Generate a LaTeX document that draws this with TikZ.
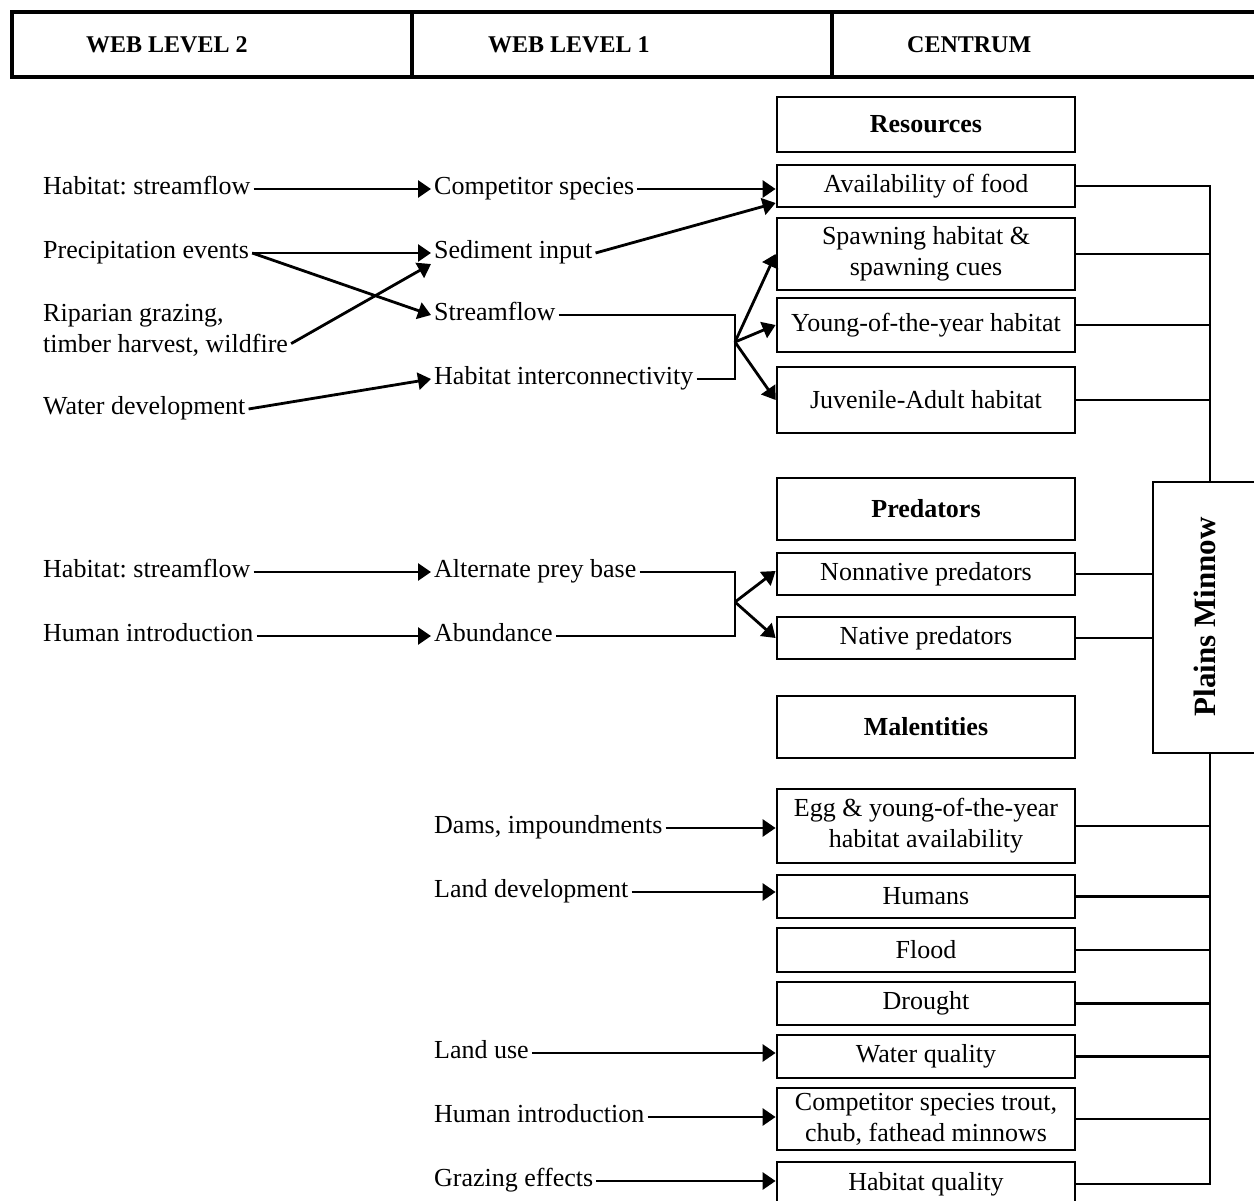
\documentclass[tikz,border=0pt]{standalone}
\usepackage{fontspec}
\setmainfont{Liberation Serif}
\usetikzlibrary{arrows.meta}
\frenchspacing
\newcommand\dgbody{\fontsize{26}{31}\selectfont}
\newcommand\dghead{\fontsize{24}{28}\selectfont\bfseries}
\newcommand\dgpm{\fontsize{31}{36}\selectfont\bfseries}
\begin{document}
\begin{tikzpicture}[x=1pt,y=-1pt,
  ln/.style={line width=2.8pt},
  arr/.style={line width=2.8pt,-{Triangle[length=13pt,width=17pt]}},
  cbox/.style={draw,line width=2.8pt,minimum width=298pt,inner sep=0pt,align=center,font=\dgbody},
  bbox/.style={cbox,font=\dgbody\bfseries},
  hcell/.style={draw,line width=3.4pt,inner sep=0pt,minimum height=65pt},
  htxt/.style={anchor=base west,inner sep=0pt,font=\dghead},
  txt/.style={anchor=west,inner xsep=3pt,inner ysep=0pt,text height=11pt,text depth=0pt,font=\dgbody},
]
\useasboundingbox (0,0) rectangle (1254,1201);
\clip (0,0) rectangle (1254,1201);

% header
\node[hcell,minimum width=400pt] (hc1) at (212,44.5) {};
\node[hcell,minimum width=420pt] (hc2) at (622,44.5) {};
\node[hcell,minimum width=440pt] (hc3) at (1052,44.5) {};
\node[htxt] (ht1) at (86,53) {WEB LEVEL 2};
\node[htxt] (ht2) at (488,53) {WEB LEVEL 1};
\node[htxt] (ht3) at (907,53) {CENTRUM};

% centrum boxes
\node[bbox,minimum height=55pt] (res) at (926,124.5) {Resources};
\node[cbox,minimum height=42pt] (food) at (926,186) {Availability of food};
\node[cbox,minimum height=72pt] (spawn) at (926,254) {Spawning habitat \&\\spawning cues};
\node[cbox,minimum height=54pt] (yoy) at (926,325) {Young-of-the-year habitat};
\node[cbox,minimum height=66pt] (juv) at (926,400) {Juvenile-Adult habitat};
\node[bbox,minimum height=62pt] (pred) at (926,509) {Predators};
\node[cbox,minimum height=42pt] (nonn) at (926,574) {Nonnative predators};
\node[cbox,minimum height=42pt] (nat) at (926,638) {Native predators};
\node[bbox,minimum height=62pt] (mal) at (926,727) {Malentities};
\node[cbox,minimum height=74pt] (egg) at (926,826) {Egg \& young-of-the-year\\habitat availability};
\node[cbox,minimum height=43pt] (hum) at (926,896.5) {Humans};
\node[cbox,minimum height=44pt] (flood) at (926,950) {Flood};
\node[cbox,minimum height=43pt] (drought) at (926,1003.5) {Drought};
\node[cbox,minimum height=43pt] (wq) at (926,1056.5) {Water quality};
\node[cbox,minimum height=62pt] (comp) at (926,1119) {Competitor species trout,\\chub, fathead minnows};
\node[cbox,minimum height=44pt] (hq) at (926,1184) {Habitat quality};

% Plains Minnow
\node[draw,line width=2.8pt,inner sep=0pt,minimum width=114pt,minimum height=271pt] (pm) at (1210,617.5) {};
\node[rotate=90,inner sep=0pt,font=\dgpm] (pmt) at (1205,617) {Plains Minnow};

% web level 2 (left)
\node[txt] (l1) at (40,189) {Habitat: streamflow};
\node[txt] (l2) at (40,253) {Precipitation events};
\node[anchor=north west,inner xsep=3pt,inner ysep=0pt,align=left,font=\dgbody] (rip) at (40,304) {Riparian grazing,\\timber harvest, wildfire};
\node[txt] (l4) at (40,409) {Water development};
\node[txt] (l5) at (40,572) {Habitat: streamflow};
\node[txt] (l6) at (40,636) {Human introduction};

% web level 1
\node[txt] (m1) at (431,189) {Competitor species};
\node[txt] (m2) at (431,253) {Sediment input};
\node[txt] (m3) at (431,315) {Streamflow};
\node[txt] (m4) at (431,379) {Habitat interconnectivity};
\node[txt] (m5) at (431,572) {Alternate prey base};
\node[txt] (m6) at (431,636) {Abundance};

% malentity drivers
\node[txt] (d1) at (431,828) {Dams, impoundments};
\node[txt] (d2) at (431,892) {Land development};
\node[txt] (d3) at (431,1053) {Land use};
\node[txt] (d4) at (431,1117) {Human introduction};
\node[txt] (d5) at (431,1181) {Grazing effects};

% junctions
\coordinate (b1) at (735,342);
\coordinate (b2) at (735,602);

% level 2 -> level 1
\draw[arr] (l1.east) -- (m1.west);
\draw[arr] (l2.east) -- (m2.west);
\draw[arr] (l2.east) -- (m3.west);
\draw[arr] ([yshift=13pt]rip.south east) -- ([yshift=-11pt]m2.west);
\draw[arr] (l4.east) -- (m4.west);
\draw[arr] (l5.east) -- (m5.west);
\draw[arr] (l6.east) -- (m6.west);

% level 1 -> centrum
\draw[arr] (m1.east) -- (m1.east -| food.west);
\draw[arr] (m2.east) -- ([yshift=-17pt]food.west);
\draw[ln] (m3.east) -| (b1);
\draw[ln] (m4.east) -| (b1);
\draw[arr] (b1) -- (spawn.west);
\draw[arr] (b1) -- (yoy.west);
\draw[arr] (b1) -- (juv.west);
\draw[ln] (m5.east) -| (b2);
\draw[ln] (m6.east) -| (b2);
\draw[arr] (b2) -- ([yshift=3pt]nonn.west);
\draw[arr] (b2) -- (nat.west);

\draw[arr] (d1.east) -- (d1.east -| egg.west);
\draw[arr] (d2.east) -- (d2.east -| hum.west);
\draw[arr] (d3.east) -- (d3.east -| wq.west);
\draw[arr] (d4.east) -- (d4.east -| comp.west);
\draw[arr] (d5.east) -- (d5.east -| hq.west);

% bus to Plains Minnow
\draw[ln] (food.east) -| (pm.north);
\draw[ln] (spawn.east) -- (spawn.east -| pm.north);
\draw[ln] (yoy.east) -- (yoy.east -| pm.north);
\draw[ln] (juv.east) -- (juv.east -| pm.north);
\draw[ln] (nonn.east) -- (nonn.east -| pm.west);
\draw[ln] (nat.east) -- (nat.east -| pm.west);
\draw[ln] (hq.east) -| (pm.south);
\draw[ln] (egg.east) -- (egg.east -| pm.south);
\draw[ln] (hum.east) -- (hum.east -| pm.south);
\draw[ln] (flood.east) -- (flood.east -| pm.south);
\draw[ln] (drought.east) -- (drought.east -| pm.south);
\draw[ln] (wq.east) -- (wq.east -| pm.south);
\draw[ln] (comp.east) -- (comp.east -| pm.south);
\end{tikzpicture}
\end{document}
